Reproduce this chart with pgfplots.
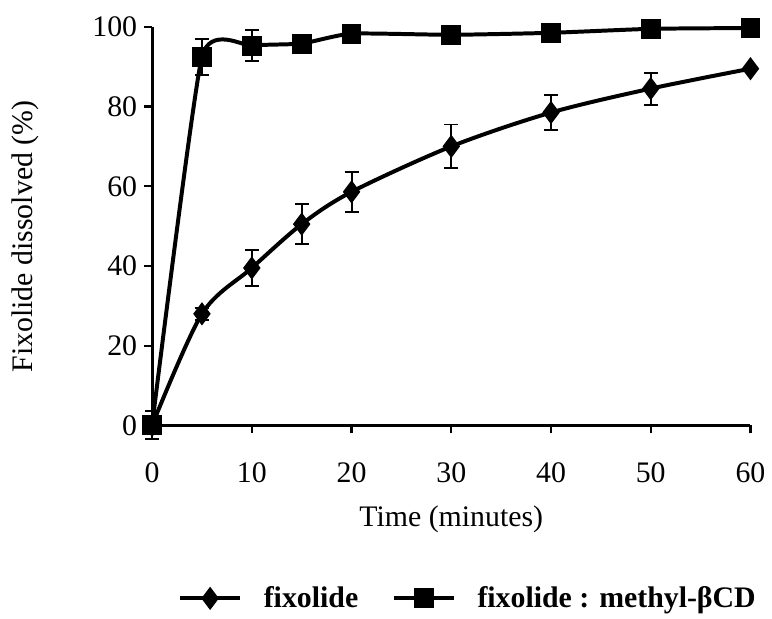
\documentclass[border=0pt]{standalone}
\usepackage{fontspec}
\setmainfont{Liberation Serif}
\usepackage{pgfplots}
\pgfplotsset{compat=1.18}

\begin{document}
\begin{tikzpicture}
\begin{axis}[
  name=main,
  scale only axis, width=301pt, height=200.5pt,
  xmin=0, xmax=60, ymin=0, ymax=100,
  xtick={0,10,...,60}, ytick={0,20,...,100},
  axis lines=left, axis line style={-, line width=1.5pt},
  tick align=outside, major tick length=4pt,
  tick style={line width=1.2pt, black},
  clip=false,
  /pgf/number format/assume math mode=true,
  tick label style={font=\fontsize{15}{18}\selectfont},
  xticklabel style={yshift=-11pt},
  label style={font=\fontsize{15}{18}\selectfont},
  xlabel={Time (minutes)},
  ylabel={Fixolide dissolved (\%)},
  xlabel style={at={(axis description cs:0.5,0)}, anchor=center, yshift=-47pt},
  ylabel style={at={(axis description cs:-0.211,0.474)}, anchor=center},
  legend columns=2,
  legend style={draw=none, fill=none, font=\fontsize{15}{18}\selectfont\bfseries,
    at={(axis description cs:0,0)}, anchor=west, xshift=10pt, yshift=-87pt,
    /tikz/every odd column/.append style={column sep=9pt},
    /tikz/every even column/.append style={column sep=15pt}},
  legend image code/.code={\draw[mark repeat=2, mark phase=2] plot coordinates {(0pt,0pt) (15pt,0pt) (30pt,0pt)};},
]
\addplot[black, line width=2pt, smooth, tension=0.5,
  mark=diamond*, mark size=4.2pt, mark options={solid},
  error bars/.cd, y dir=both, y explicit,
  error bar style={line width=1pt},
  error mark options={rotate=90, mark size=3.5pt, line width=1pt}]
  coordinates {
  (0,0) +- (0,2)
  (5,28) +- (0,1.5)
  (10,39.5) +- (0,4.6)
  (15,50.5) +- (0,5)
  (20,58.6) +- (0,5)
  (30,70) +- (0,5.5)
  (40,78.5) +- (0,4.5)
  (50,84.5) +- (0,4)
  (60,89.5) +- (0,0.5)
};
\addplot[black, line width=2pt, smooth, tension=0.3,
  mark=square*, mark size=4pt, mark options={solid},
  error bars/.cd, y dir=both, y explicit,
  error bar style={line width=1pt},
  error mark options={rotate=90, mark size=3.5pt, line width=1pt}]
  coordinates {
  (0,0) +- (0,3.5)
  (5,92.5) +- (0,4.5)
  (10,95.3) +- (0,3.9)
  (15,95.8) +- (0,1)
  (20,98.3) +- (0,0.8)
  (30,98) +- (0,0.8)
  (40,98.5) +- (0,0.8)
  (50,99.5) +- (0,1.2)
  (60,99.7) +- (0,1)
};
\legend{fixolide, fixolide : methyl-βCD}
\end{axis}
\path (main.south west) ++(-76.5pt,-92pt) coordinate (bl);
\path (main.north east) ++(8.5pt,13.5pt) coordinate (tr);
\useasboundingbox (bl) rectangle (tr);
\end{tikzpicture}
\end{document}
